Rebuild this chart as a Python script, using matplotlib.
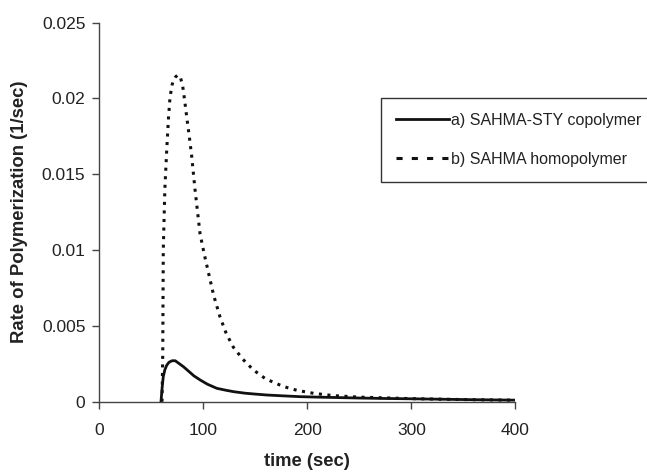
import matplotlib.pyplot as plt

plt.rcParams['font.family'] = ['Liberation Sans', 'DejaVu Sans']

# a) SAHMA-STY copolymer
t_co = [59.3, 60.5, 61.5, 63, 64.8, 67, 70, 73, 77, 81, 86, 91, 97, 104, 113, 122, 129, 140, 150, 161,
        175, 193, 210, 230, 250, 275, 300, 330, 360, 400]
r_co = [0.0, 0.0010, 0.00165, 0.0021, 0.0024, 0.0026, 0.0027, 0.0027, 0.0025, 0.0023, 0.0020, 0.0017,
        0.00143, 0.00115, 0.00088, 0.00075, 0.00066, 0.00056, 0.0005, 0.00044, 0.00039, 0.00033,
        0.0003, 0.00027, 0.00024, 0.00021, 0.00019, 0.00016, 0.00013, 0.0001]

# b) SAHMA homopolymer
t_ho = [60.3, 61, 61.5, 63, 64.8, 66.5, 68, 70, 71.2, 73, 75.4, 78, 80.2, 82, 84, 86.5, 88.8, 92, 96.8,
        101, 105.8, 110, 116, 122, 128.8, 138, 148, 160, 177, 190, 206, 225, 250, 275, 300, 340, 370, 400]
r_ho = [0.0, 0.0032, 0.0100, 0.0140, 0.0166, 0.0187, 0.0201, 0.0209, 0.0212, 0.0214, 0.02155, 0.0214,
        0.0208, 0.0199, 0.0188, 0.0175, 0.0162, 0.0140, 0.0111, 0.0097, 0.00825, 0.0070, 0.0056,
        0.0045, 0.0036, 0.0028, 0.0021, 0.0015, 0.0010, 0.00075, 0.00055, 0.0004, 0.0003, 0.00025,
        0.0002, 0.00015, 0.00012, 0.0001]

xticks = [0, 100, 200, 300, 400]
yticks = [0, 0.005, 0.01, 0.015, 0.02, 0.025]
ylabels = ['0', '0.005', '0.01', '0.015', '0.02', '0.025']

fig = plt.figure(figsize=(6.47, 4.72), dpi=100)
ax = fig.add_axes([0.1535, 0.149, 0.643, 0.803])

ax.plot(t_co, r_co, color='#111111', lw=2.0, label='a) SAHMA-STY copolymer')
ax.plot(t_ho, r_ho, color='#111111', lw=2.2, linestyle=(0, (1.0, 1.8)), label='b) SAHMA homopolymer')

ax.set_xlim(0, 400)
ax.set_ylim(0, 0.025)
ax.set_xticks(xticks)
ax.set_yticks(yticks)
ax.set_yticklabels(ylabels)
ax.spines['top'].set_visible(False)
ax.spines['right'].set_visible(False)
for s in ['left', 'bottom']:
    ax.spines[s].set_color('#444444')
    ax.spines[s].set_linewidth(1.0)
ax.tick_params(direction='out', length=5, width=1, color='#444444', labelsize=12.5, labelcolor='#222222')
ax.tick_params(axis='x', pad=10)
ax.tick_params(axis='y', pad=5)

ax.set_xlabel('time (sec)', fontsize=13.3, fontweight='bold', labelpad=11, color='#222222')
ax.set_ylabel('Rate of Polymerization (1/sec)', fontsize=13.3, fontweight='bold', labelpad=10, color='#222222')

leg = fig.legend(loc='upper left', bbox_to_anchor=(0.589, 0.793), fontsize=11.5,
                 frameon=True, fancybox=False, edgecolor='#333333', framealpha=1,
                 handlelength=3.3, handletextpad=0.15, labelspacing=1.5, borderpad=0.95,
                 borderaxespad=0)
leg.get_frame().set_linewidth(1.0)
for txt in leg.get_texts():
    txt.set_color('#222222')
leg.legend_handles[1].set_linestyle((0, (2, 3)))

fig.savefig('out.png', dpi=100)
